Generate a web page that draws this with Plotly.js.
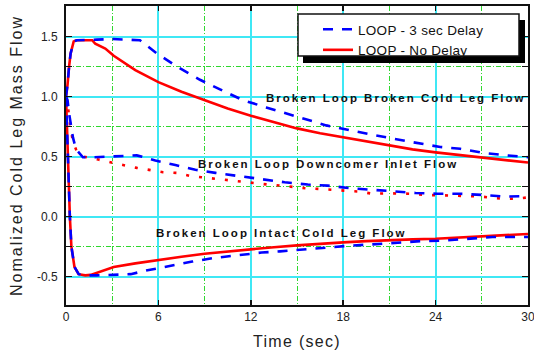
<!DOCTYPE html>
<html><head><meta charset="utf-8">
<script src="https://cdn.plot.ly/plotly-3.0.1.min.js"></script>
<style>
html,body{margin:0;padding:0;background:#fff;}
#chart{width:534px;height:358px;}
.annotation-text{letter-spacing:2px;}
.xtitle{letter-spacing:1.3px;}
.ytitle{letter-spacing:2px;}
.legendtext{letter-spacing:0.3px;}
</style></head>
<body><div id="chart"></div>
<script>
// Broken Loop Broken Cold Leg Flow
const brokenT_noDelay = [0, 0.1, 0.2, 0.3, 0.5, 0.7, 1.7, 1.9, 2.55, 3.1, 4.5, 6, 7.5, 9, 10.5, 12, 13.5, 15, 16.5, 18, 19.5, 21, 22.5, 24, 25.5, 27, 28.5, 30];
const brokenY_noDelay = [1.0, 1.1, 1.25, 1.36, 1.46, 1.47, 1.47, 1.44, 1.40, 1.34, 1.22, 1.12, 1.04, 0.97, 0.90, 0.84, 0.785, 0.735, 0.695, 0.66, 0.625, 0.59, 0.56, 0.535, 0.515, 0.495, 0.47, 0.45];
const brokenT_delay = [0, 0.1, 0.2, 0.3, 0.5, 0.7, 2, 3, 4.8, 5.5, 5.9, 7.2, 8.7, 10, 11.5, 13, 14.3, 15.6, 16.9, 18.4, 19.9, 21.2, 22.5, 24.3, 25.6, 27.1, 28.6, 30];
const brokenY_delay = [1.0, 1.1, 1.25, 1.36, 1.46, 1.47, 1.475, 1.48, 1.47, 1.40, 1.36, 1.25, 1.14, 1.06, 0.97, 0.91, 0.86, 0.81, 0.76, 0.72, 0.68, 0.65, 0.62, 0.58, 0.565, 0.53, 0.51, 0.495];

// Broken Loop Downcomer Inlet Flow
const dcT_noDelay = [0, 0.1, 0.2, 0.37, 0.45, 0.65, 1.1, 2.1, 2.9, 3.7, 4.6, 5.5, 6.3, 7.2, 8.0, 8.8, 9.7, 10.5, 11.4, 12.3, 13.1, 13.9, 14.8, 15.6, 16.5, 17.4, 18.2, 19.1, 19.9, 21, 22.5, 23.4, 25.1, 26.9, 28.4, 29.2, 30];
const dcY_noDelay = [1.0, 0.95, 0.83, 0.675, 0.62, 0.56, 0.5, 0.475, 0.45, 0.43, 0.406, 0.39, 0.37, 0.364, 0.34, 0.328, 0.314, 0.306, 0.29, 0.278, 0.267, 0.258, 0.244, 0.236, 0.23, 0.222, 0.217, 0.208, 0.19, 0.194, 0.19, 0.18, 0.175, 0.167, 0.148, 0.148, 0.16];
const dcT_delay = [0, 0.1, 0.2, 0.3, 0.45, 0.65, 1.1, 1.7, 2.6, 3.2, 4.0, 4.6, 5.2, 5.8, 7.1, 8.4, 9.7, 11.3, 12.8, 14.2, 15.7, 17.0, 18.5, 20.0, 21.3, 22.7, 24.1, 25.6, 27.1, 28.4, 30];
const dcY_delay = [1.0, 0.97, 0.86, 0.77, 0.66, 0.56, 0.494, 0.494, 0.50, 0.50, 0.51, 0.51, 0.49, 0.467, 0.43, 0.39, 0.364, 0.336, 0.308, 0.286, 0.267, 0.258, 0.236, 0.222, 0.208, 0.197, 0.19, 0.19, 0.18, 0.167, 0.17];

// Broken Loop Intact Cold Leg Flow
const icT_noDelay = [0, 0.12, 0.25, 0.35, 0.55, 0.82, 1.25, 1.6, 2.5, 3.1, 4.5, 6, 7.5, 9, 10.5, 12, 13.5, 15, 16.5, 18, 19.5, 21, 22.5, 24, 25.5, 27, 28.5, 30];
const icY_noDelay = [1.0, 0.5, 0.0, -0.25, -0.42, -0.48, -0.49, -0.486, -0.45, -0.42, -0.39, -0.36, -0.335, -0.31, -0.29, -0.275, -0.255, -0.24, -0.225, -0.215, -0.205, -0.195, -0.19, -0.185, -0.175, -0.165, -0.155, -0.145];
const icT_delay = [0, 0.12, 0.25, 0.35, 0.55, 0.82, 1.25, 2.0, 4.2, 5.2, 6.7, 8.2, 9.6, 11.2, 12.7, 13.9, 15.2, 16.7, 18.2, 19.7, 21.2, 23, 24.5, 26, 27.7, 29.7, 30];
const icY_delay = [1.0, 0.5, 0.0, -0.25, -0.42, -0.48, -0.49, -0.49, -0.48, -0.45, -0.41, -0.375, -0.345, -0.32, -0.30, -0.29, -0.275, -0.26, -0.245, -0.233, -0.22, -0.205, -0.2, -0.185, -0.17, -0.17, -0.17];

const seriesNames = ["LOOP - 3 sec Delay", "LOOP - No Delay"];
const curveLabels = ["Broken Loop Broken Cold Leg Flow", "Broken Loop Downcomer Inlet Flow", "Broken Loop Intact Cold Leg Flow"];
const xTicks = [0, 6, 12, 18, 24, 30];
const yTicks = [-0.5, 0.0, 0.5, 1.0, 1.5];

const RED = '#ff0000', BLUE = '#0000ff';
const redSolid = {color: RED, width: 2.6};
const redDot = {color: RED, width: 2.6, dash: '3px,10px'};
const blueDash = {color: BLUE, width: 2.6, dash: '10px,9px'};

const traces = [
  {x: brokenT_noDelay, y: brokenY_noDelay, mode: 'lines', line: redSolid, name: seriesNames[1], legendgroup: 'nd', showlegend: true, legendrank: 2},
  {x: icT_noDelay, y: icY_noDelay, mode: 'lines', line: redSolid, name: seriesNames[1], legendgroup: 'nd', showlegend: false},
  {x: dcT_noDelay, y: dcY_noDelay, mode: 'lines', line: redDot, name: seriesNames[1], legendgroup: 'nd', showlegend: false},
  {x: brokenT_delay, y: brokenY_delay, mode: 'lines', line: blueDash, name: seriesNames[0], legendgroup: 'd', showlegend: true, legendrank: 1},
  {x: icT_delay, y: icY_delay, mode: 'lines', line: blueDash, name: seriesNames[0], legendgroup: 'd', showlegend: false},
  {x: dcT_delay, y: dcY_delay, mode: 'lines', line: blueDash, name: seriesNames[0], legendgroup: 'd', showlegend: false}
];

const W = 534, H = 358, L = 66, R = 6, T = 6, B = 53;
const pw = W - L - R, ph = H - T - B;
const px2x = p => (p - L) / pw;
const py2y = p => (H - B - p) / ph;

const CYAN = '#3fe8f5', GREEN = '#2fd82f';
const annFont = {family: 'Liberation Sans, Arial, sans-serif', size: 11.5, color: '#111', weight: 'bold'};

const layout = {
  width: W, height: H,
  margin: {l: L, r: R, t: T, b: B},
  paper_bgcolor: '#fff', plot_bgcolor: '#fff',
  font: {family: 'Liberation Sans, Arial, sans-serif', color: '#222', size: 12},
  showlegend: true,
  legend: {
    x: px2x(318), y: py2y(14), xanchor: 'left', yanchor: 'top',
    bgcolor: 'rgba(0,0,0,0)', borderwidth: 0,
    font: {size: 13.5, color: '#111'}, tracegroupgap: 0
  },
  xaxis: {
    range: [0, 30], tickvals: xTicks, ticktext: xTicks.map(String),
    ticks: 'inside', ticklen: 5, tickwidth: 1.5, tickcolor: '#111',
    showline: true, linecolor: '#111', linewidth: 2, mirror: 'ticks',
    showgrid: true, gridcolor: CYAN, gridwidth: 2, zeroline: false,
    minor: {dtick: 3, tick0: 0, showgrid: true, gridcolor: GREEN, gridwidth: 1, griddash: '5px,2px,1px,2px', ticks: ''},
    tickfont: {size: 12, color: '#222'},
    ticklabeloverflow: 'allow',
    title: {text: 'Time (sec)', font: {size: 16, color: '#222'}, standoff: 12}
  },
  yaxis: {
    range: [-0.737, 1.755], tickvals: yTicks, ticktext: yTicks.map(v => v.toFixed(1)),
    ticks: 'inside', ticklen: 6, tickwidth: 1.5, tickcolor: '#111',
    showline: true, linecolor: '#111', linewidth: 2, mirror: 'ticks',
    showgrid: true, gridcolor: CYAN, gridwidth: 2, zeroline: false,
    minor: {dtick: 0.25, tick0: 0, showgrid: true, gridcolor: GREEN, gridwidth: 1, griddash: '5px,2px,1px,2px', ticks: 'inside', ticklen: 6, tickcolor: '#111', tickwidth: 1.5},
    tickfont: {size: 12, color: '#222'},
    ticklabelstandoff: 4,
    title: {text: 'Nomalized Cold Leg Mass Flow', font: {size: 16, color: '#222'}, standoff: 10}
  },
  shapes: [
    {type: 'rect', xref: 'paper', yref: 'paper', layer: 'above', x0: px2x(303), x1: px2x(525), y0: py2y(20), y1: py2y(63), fillcolor: '#000', line: {width: 0}},
    {type: 'rect', xref: 'paper', yref: 'paper', layer: 'above', x0: px2x(298), x1: px2x(519), y0: py2y(14), y1: py2y(56), fillcolor: '#fff', line: {color: '#111', width: 1.5}}
  ],
  annotations: [
    {x: 21.45, y: 0.986, xref: 'x', yref: 'y', text: curveLabels[0], showarrow: false, xanchor: 'center', yanchor: 'middle', font: annFont},
    {x: 17.04, y: 0.44, xref: 'x', yref: 'y', text: curveLabels[1], showarrow: false, xanchor: 'center', yanchor: 'middle', font: annFont},
    {x: 14.0, y: -0.136, xref: 'x', yref: 'y', text: curveLabels[2], showarrow: false, xanchor: 'center', yanchor: 'middle', font: annFont}
  ]
};

Plotly.newPlot('chart', traces, layout, {displayModeBar: false, staticPlot: true});
</script>
</body></html>
